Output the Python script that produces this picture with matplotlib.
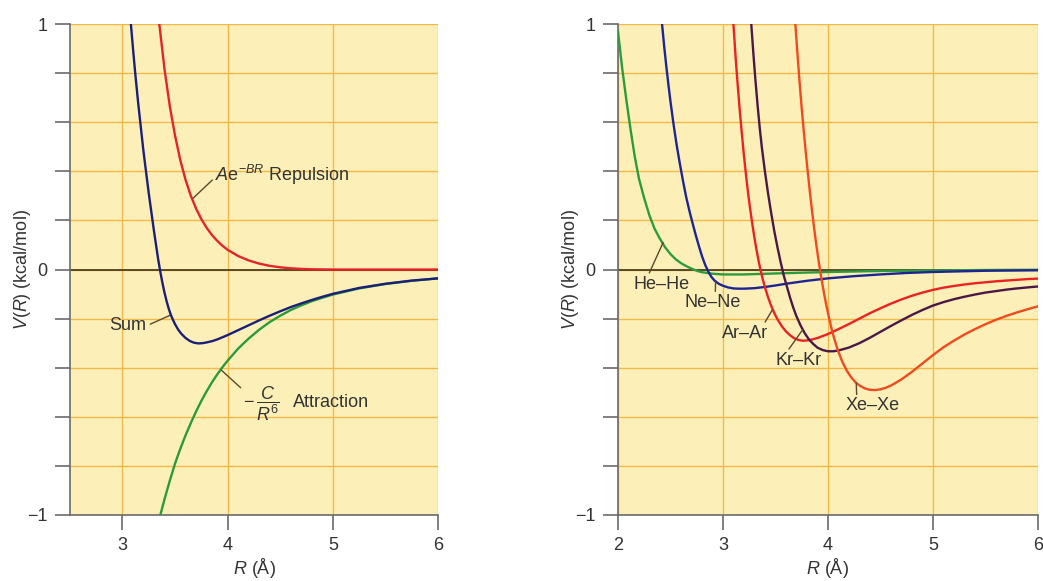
import matplotlib
matplotlib.use("Agg")
import matplotlib.pyplot as plt

# ---------------- Left panel data ----------------
rep_R = [3.35, 3.40, 3.45, 3.50, 3.55, 3.60, 3.65, 3.70, 3.75, 3.80, 3.85, 3.90, 3.95, 4.00, 4.10, 4.20, 4.30, 4.40, 4.50, 4.60, 4.70, 4.80, 5.00, 6.00]
rep_V = [1.00, 0.815, 0.665, 0.545, 0.445, 0.365, 0.30, 0.248, 0.205, 0.17, 0.141, 0.117, 0.097, 0.080, 0.055, 0.037, 0.024, 0.015, 0.009, 0.005, 0.0025, 0.001, 0.0, 0.0]

att_R = [3.36, 3.40, 3.45, 3.50, 3.55, 3.60, 3.65, 3.70, 3.75, 3.80, 3.85, 3.90, 3.95, 4.00, 4.10, 4.20, 4.30, 4.40, 4.50, 4.60, 4.70, 4.80, 4.90, 5.00, 5.25, 5.50, 5.75, 6.00]
att_V = [-1.00, -0.935, -0.86, -0.79, -0.73, -0.675, -0.625, -0.578, -0.535, -0.496, -0.46, -0.428, -0.398, -0.371, -0.322, -0.281, -0.245, -0.214, -0.188, -0.165, -0.146, -0.129, -0.115, -0.102, -0.077, -0.059, -0.046, -0.036]

sum_R = [3.08, 3.10, 3.12, 3.15, 3.20, 3.25, 3.30, 3.34, 3.36, 3.38, 3.40, 3.42, 3.44, 3.46, 3.48, 3.50, 3.53, 3.56, 3.60, 3.64, 3.68, 3.72, 3.76, 3.80, 3.85, 3.90, 3.95, 4.00, 4.10, 4.20, 4.30, 4.40, 4.50, 4.60, 4.70, 4.80, 4.90, 5.00, 5.25, 5.50, 5.75, 6.00]
sum_V = [1.00, 0.90, 0.805, 0.675, 0.48, 0.31, 0.155, 0.04, -0.01, -0.055, -0.095, -0.13, -0.16, -0.185, -0.205, -0.223, -0.245, -0.262, -0.279, -0.291, -0.298, -0.301, -0.300, -0.297, -0.292, -0.285, -0.276, -0.267, -0.247, -0.227, -0.207, -0.188, -0.170, -0.153, -0.138, -0.124, -0.111, -0.099, -0.075, -0.058, -0.045, -0.036]

# ---------------- Right panel data ----------------
he_R = [2.00, 2.04, 2.08, 2.12, 2.16, 2.20, 2.25, 2.30, 2.35, 2.40, 2.45, 2.50, 2.55, 2.60, 2.65, 2.70, 2.75, 2.80, 2.90, 3.00, 3.20, 3.50, 4.00, 4.50, 5.00, 5.50, 6.00]
he_V = [0.97, 0.82, 0.69, 0.57, 0.46, 0.37, 0.29, 0.22, 0.165, 0.125, 0.09, 0.063, 0.042, 0.026, 0.014, 0.004, -0.005, -0.011, -0.017, -0.020, -0.020, -0.016, -0.010, -0.006, -0.004, -0.002, -0.001]

ne_R = [2.42, 2.44, 2.46, 2.48, 2.50, 2.53, 2.56, 2.59, 2.62, 2.65, 2.68, 2.71, 2.74, 2.77, 2.80, 2.83, 2.86, 2.89, 2.92, 2.96, 3.00, 3.05, 3.10, 3.15, 3.20, 3.30, 3.40, 3.50, 3.60, 3.80, 4.00, 4.25, 4.50, 4.75, 5.00, 5.50, 6.00]
ne_V = [1.00, 0.91, 0.83, 0.755, 0.685, 0.59, 0.505, 0.43, 0.36, 0.295, 0.24, 0.19, 0.142, 0.097, 0.055, 0.02, -0.008, -0.03, -0.045, -0.058, -0.066, -0.073, -0.077, -0.078, -0.078, -0.076, -0.071, -0.065, -0.058, -0.046, -0.036, -0.027, -0.020, -0.014, -0.010, -0.005, -0.003]

ar_R = [3.10, 3.12, 3.14, 3.16, 3.18, 3.20, 3.22, 3.24, 3.26, 3.28, 3.30, 3.32, 3.34, 3.36, 3.38, 3.40, 3.43, 3.46, 3.49, 3.52, 3.56, 3.60, 3.64, 3.68, 3.72, 3.76, 3.80, 3.85, 3.90, 4.00, 4.10, 4.20, 4.30, 4.40, 4.50, 4.60, 4.70, 4.80, 4.90, 5.00, 5.10, 5.20, 5.30, 5.40, 5.50, 5.60, 5.70, 5.80, 5.90, 6.00]
ar_V = [1.00, 0.87, 0.755, 0.65, 0.555, 0.465, 0.385, 0.31, 0.245, 0.185, 0.13, 0.08, 0.035, -0.005, -0.04, -0.072, -0.113, -0.148, -0.178, -0.203, -0.23, -0.252, -0.268, -0.28, -0.287, -0.29, -0.289, -0.285, -0.279, -0.263, -0.243, -0.222, -0.200, -0.178, -0.158, -0.139, -0.122, -0.107, -0.094, -0.083, -0.074, -0.067, -0.061, -0.056, -0.052, -0.048, -0.045, -0.042, -0.039, -0.037]

kr_R = [3.27, 3.29, 3.31, 3.33, 3.35, 3.37, 3.40, 3.43, 3.46, 3.49, 3.52, 3.55, 3.58, 3.61, 3.64, 3.67, 3.70, 3.74, 3.78, 3.82, 3.86, 3.90, 3.95, 4.00, 4.05, 4.10, 4.20, 4.30, 4.40, 4.50, 4.60, 4.70, 4.80, 4.90, 5.00, 5.10, 5.20, 5.30, 5.40, 5.50, 5.60, 5.70, 5.80, 5.90, 6.00]
kr_V = [1.00, 0.88, 0.77, 0.67, 0.58, 0.50, 0.40, 0.31, 0.23, 0.155, 0.09, 0.03, -0.025, -0.07, -0.115, -0.155, -0.19, -0.228, -0.26, -0.285, -0.303, -0.318, -0.328, -0.333, -0.333, -0.33, -0.318, -0.30, -0.278, -0.254, -0.23, -0.207, -0.185, -0.165, -0.147, -0.133, -0.121, -0.111, -0.102, -0.094, -0.088, -0.082, -0.077, -0.073, -0.069]

xe_R = [3.69, 3.71, 3.73, 3.75, 3.77, 3.79, 3.81, 3.83, 3.85, 3.87, 3.89, 3.91, 3.93, 3.95, 3.98, 4.01, 4.04, 4.07, 4.10, 4.14, 4.18, 4.22, 4.26, 4.30, 4.35, 4.40, 4.45, 4.50, 4.55, 4.60, 4.70, 4.80, 4.90, 5.00, 5.10, 5.20, 5.30, 5.40, 5.50, 5.60, 5.70, 5.80, 5.90, 6.00]
xe_V = [1.00, 0.88, 0.765, 0.66, 0.565, 0.475, 0.39, 0.31, 0.235, 0.165, 0.10, 0.04, -0.015, -0.065, -0.135, -0.195, -0.25, -0.295, -0.335, -0.378, -0.412, -0.438, -0.458, -0.472, -0.484, -0.49, -0.491, -0.488, -0.482, -0.473, -0.448, -0.417, -0.383, -0.349, -0.317, -0.29, -0.265, -0.243, -0.223, -0.205, -0.189, -0.175, -0.162, -0.15]

y_ticks = [-1.0, -0.8, -0.6, -0.4, -0.2, 0.0, 0.2, 0.4, 0.6, 0.8, 1.0]
y_ticklabels = ["\u22121", "", "", "", "", "0", "", "", "", "", "1"]
left_xticks = [3, 4, 5, 6]
right_xticks = [2, 3, 4, 5, 6]

BG = "#fcf0b8"
GRID = "#f2b84a"
SPINE = "#6b6b6b"

plt.rcParams["font.family"] = ["Liberation Sans", "DejaVu Sans"]
plt.rcParams["mathtext.fontset"] = "custom"
plt.rcParams["mathtext.it"] = "Liberation Sans:italic"
plt.rcParams["mathtext.rm"] = "Liberation Sans"

FS = 13

fig = plt.figure(figsize=(10.43, 5.81), dpi=100)
axL = fig.add_axes([0.067, 0.1136, 0.353, 0.845])
axR = fig.add_axes([0.5925, 0.1136, 0.4025, 0.845])


def style(ax, xlim, xticks):
    ax.set_facecolor(BG)
    ax.set_xlim(*xlim)
    ax.set_ylim(-1, 1)
    ax.set_yticks(y_ticks)
    ax.set_yticklabels(y_ticklabels)
    ax.set_xticks(xticks)
    ax.set_xticklabels([str(t) for t in xticks])
    ax.grid(True, color=GRID, lw=1.0, zorder=0)
    ax.set_axisbelow(True)
    for s in ["top", "right"]:
        ax.spines[s].set_visible(False)
    for s in ["left", "bottom"]:
        ax.spines[s].set_color(SPINE)
        ax.spines[s].set_linewidth(1.2)
    ax.tick_params(axis="both", direction="out", length=11, width=1.2,
                   color=SPINE, labelsize=FS, labelcolor="#333333", pad=5)
    ax.axhline(0, color="#4a4020", lw=1.3, zorder=2)
    ax.set_xlabel(r"$\mathit{R}$ (Å)", fontsize=FS, color="#333333", labelpad=1)
    ax.set_ylabel(r"$\mathit{V}$($\mathit{R}$) (kcal/mol)", fontsize=FS, color="#333333", labelpad=-4)


style(axL, (2.5, 6.0), left_xticks)
style(axR, (2.0, 6.0), right_xticks)

lw = 1.7
axL.plot(rep_R, rep_V, color="#e4232b", lw=lw, zorder=3, solid_joinstyle="round")
axL.plot(att_R, att_V, color="#2a9a3c", lw=lw, zorder=3, solid_joinstyle="round")
axL.plot(sum_R, sum_V, color="#1c1f78", lw=lw, zorder=4, solid_joinstyle="round")

tc = "#333333"
lc = "#5a4a2a"
# Left annotations
axL.annotate(r"$\mathit{A}$e$^{-\mathit{BR}}$ Repulsion", xy=(3.67, 0.29), xytext=(3.88, 0.385),
             fontsize=FS, color=tc, va="center", ha="left",
             arrowprops=dict(arrowstyle="-", color=lc, lw=1.0, shrinkA=0, shrinkB=0,
                             relpos=(0, 0.4)))
axL.annotate("Sum", xy=(3.46, -0.185), xytext=(3.05, -0.23),
             fontsize=FS, color=tc, va="center", ha="center",
             arrowprops=dict(arrowstyle="-", color=lc, lw=1.0, shrinkA=1, shrinkB=0,
                             relpos=(1, 0.5)))
axL.annotate(r"$-\,\dfrac{\mathit{C}}{\mathit{R}^{6}}$", xy=(3.94, -0.41), xytext=(4.15, -0.545),
             fontsize=FS, color=tc, va="center", ha="left",
             arrowprops=dict(arrowstyle="-", color=lc, lw=1.0, shrinkA=0, shrinkB=0,
                             relpos=(0.1, 0.75)))
axL.text(4.62, -0.54, "Attraction", fontsize=FS, color=tc, va="center", ha="left")

# Right panel curves
axR.plot(he_R, he_V, color="#2e9a3e", lw=lw, zorder=3, solid_joinstyle="round")
axR.plot(ne_R, ne_V, color="#1d2592", lw=lw, zorder=3, solid_joinstyle="round")
axR.plot(ar_R, ar_V, color="#ec2222", lw=lw, zorder=3, solid_joinstyle="round")
axR.plot(kr_R, kr_V, color="#4b1846", lw=lw, zorder=3, solid_joinstyle="round")
axR.plot(xe_R, xe_V, color="#f24a1e", lw=lw, zorder=3, solid_joinstyle="round")


def lab(ax, text, xy, xytext, rel):
    ax.annotate(text, xy=xy, xytext=xytext, fontsize=FS, color=tc, va="center", ha="center",
                arrowprops=dict(arrowstyle="-", color=lc, lw=1.0, shrinkA=0, shrinkB=0, relpos=rel))


lab(axR, "He\u2013He", (2.43, 0.11), (2.42, -0.06), (0.25, 1.0))
lab(axR, "Ne\u2013Ne", (2.93, -0.05), (2.90, -0.135), (0.55, 1.0))
lab(axR, "Ar\u2013Ar", (3.47, -0.165), (3.21, -0.26), (0.9, 1.0))
lab(axR, "Kr\u2013Kr", (3.76, -0.245), (3.72, -0.37), (0.25, 1.0))
lab(axR, "Xe\u2013Xe", (4.27, -0.462), (4.43, -0.555), (0.2, 1.0))

fig.savefig("out.png", dpi=100, facecolor="white")
